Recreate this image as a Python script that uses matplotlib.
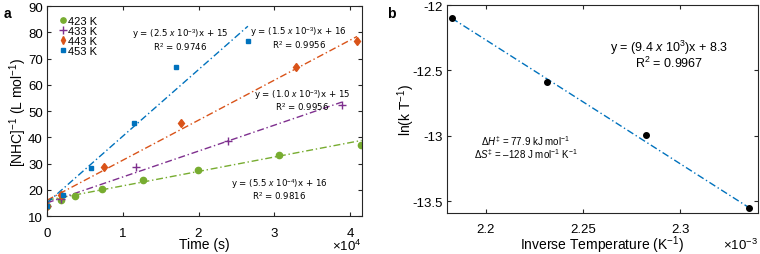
import matplotlib.pyplot as plt
from matplotlib.ticker import ScalarFormatter

plt.rcParams['font.family'] = ['Liberation Sans', 'DejaVu Sans']
plt.rcParams['mathtext.fontset'] = 'custom'
plt.rcParams['mathtext.rm'] = 'Liberation Sans'
plt.rcParams['mathtext.it'] = 'Liberation Sans:italic'

# panel a: 1/[NHC] vs time, one series per temperature
t423 = [0, 1870, 3670, 7280, 12690, 19900, 30630, 41450]
y423 = [14.0, 16.1, 17.7, 20.2, 23.6, 27.4, 33.2, 36.9]
t433 = [0, 1900, 11770, 23900, 38900]
y433 = [14.0, 16.5, 28.5, 38.4, 52.4]
t443 = [0, 1870, 7500, 17700, 32880, 40920]
y443 = [14.0, 18.1, 28.5, 45.3, 66.6, 76.7]
t453 = [0, 2090, 5830, 11540, 17080, 26540]
y453 = [13.8, 18.1, 28.4, 45.4, 66.6, 76.8]

# fitted lines (end points)
fit423_x = [0, 41500]
fit423_y = [16, 38.8]
fit433_x = [0, 38900]
fit433_y = [15, 53.4]
fit443_x = [0, 40900]
fit443_y = [16, 78.4]
fit453_x = [0, 26500]
fit453_y = [15, 82.3]

# panel b: Eyring plot
invT = [2.1825, 2.2314, 2.2825, 2.3356]
lnkT = [-12.10, -12.59, -12.99, -13.55]
fitb_x = [2.1825, 2.3356]
fitb_y = [-12.10, -13.55]

blue = '#0072BD'
orange = '#D95319'
purple = '#7E2F8E'
green = '#77AC30'
axcol = '#262626'

fig = plt.figure(figsize=(7.6, 2.55), dpi=100)
ax1 = fig.add_axes([0.0618, 0.149, 0.414, 0.8235])
ax2 = fig.add_axes([0.588, 0.161, 0.409, 0.815])

ls = (0, (5, 2, 1, 2))

ax1.plot(fit423_x, fit423_y, color=green, lw=1, ls=ls)
ax1.plot(fit433_x, fit433_y, color=purple, lw=1, ls=ls)
ax1.plot(fit443_x, fit443_y, color=orange, lw=1, ls=ls)
ax1.plot(fit453_x, fit453_y, color=blue, lw=1, ls=ls)

ax1.plot(t423, y423, 'o', color=green, ms=4.5, label='423 K')
ax1.plot(t433, y433, '+', color=purple, ms=6, mew=1, label='433 K')
ax1.plot(t443, y443, 'd', color=orange, ms=4.5, label='443 K')
ax1.plot(t453, y453, 's', color=blue, ms=3.2, label='453 K')

ax1.set_xlim(0, 41500)
ax1.set_ylim(10, 90)
ax1.set_xticks([0, 10000, 20000, 30000, 40000])
ax1.set_yticks(range(10, 91, 10))
fmt = ScalarFormatter(useMathText=True)
fmt.set_powerlimits((0, 0))
ax1.xaxis.set_major_formatter(fmt)
ax1.xaxis.get_offset_text().set_visible(False)
ax1.text(1.0, -0.105, '$\\times$10$^{4}$', transform=ax1.transAxes, fontsize=9.5,
         ha='right', va='top')
ax1.set_xlabel('Time (s)', fontsize=10, labelpad=-1)
ax1.set_ylabel('[NHC]$^{-1}$ (L mol$^{-1}$)', fontsize=10, labelpad=-1)
ax1.legend(loc='upper left', frameon=False, fontsize=8, handletextpad=0.0,
           handlelength=1.0, labelspacing=0.0, borderaxespad=0.6, borderpad=0.3,
           markerscale=0.85)

eqsize = 6.2
eqkw = dict(fontsize=eqsize, ha='center', va='center', family='DejaVu Sans',
            linespacing=1.0)
ax1.text(17500, 77.4, 'y = (2.5 $\\mathit{x}$ 10$^{-3}$)x + 15\nR$^2$ = 0.9746', **eqkw)
ax1.text(33200, 78.2, 'y = (1.5 $\\mathit{x}$ 10$^{-3}$)x + 16\nR$^2$ = 0.9956', **eqkw)
ax1.text(33600, 54.3, 'y = (1.0 $\\mathit{x}$ 10$^{-3}$)x + 15\nR$^2$ = 0.9956', **eqkw)
ax1.text(30600, 20.4, 'y = (5.5 $\\mathit{x}$ 10$^{-4}$)x + 16\nR$^2$ = 0.9816', **eqkw)

ax2.plot(fitb_x, fitb_y, color=blue, lw=1, ls=ls)
ax2.plot(invT, lnkT, 'o', color='black', ms=4)
ax2.set_xlim(2.18, 2.34)
ax2.set_ylim(-13.59, -12.0)
ax2.set_xticks([2.2, 2.25, 2.3])
ax2.set_xticklabels(['2.2', '2.25', '2.3'])
ax2.set_yticks([-13.5, -13, -12.5, -12])
ax2.set_yticklabels(['-13.5', '-13', '-12.5', '-12'])
ax2.set_xlabel('Inverse Temperature (K$^{-1}$)', fontsize=10, labelpad=-1)
ax2.set_ylabel('ln(k T$^{-1}$)', fontsize=10, labelpad=-3)
ax2.text(1.0, -0.115, '$\\times$10$^{-3}$', transform=ax2.transAxes, fontsize=9.5,
         ha='right', va='top')
ax2.text(2.2943, -12.37, 'y = (9.4 $\\mathit{x}$ 10$^{3}$)x + 8.3\nR$^2$ = 0.9967',
         fontsize=9, ha='center', va='center', linespacing=0.9)
ax2.text(2.2206, -13.08, '$\\Delta\\mathit{H}^{\\ddag}$ = 77.9 kJ mol$^{-1}$\n'
         '$\\Delta\\mathit{S}^{\\ddag}$ = \u2013128 J mol$^{-1}$ K$^{-1}$',
         fontsize=7, ha='center', va='center', linespacing=0.95)

for ax in (ax1, ax2):
    for s in ax.spines.values():
        s.set_color(axcol)
        s.set_linewidth(0.8)
    ax.tick_params(direction='in', top=True, right=True, length=3, width=0.8,
                   color=axcol, labelsize=9.5, labelcolor='black', pad=3)
    ax.tick_params(axis='x', pad=7)

fig.text(0.005, 0.93, 'a', fontsize=10, fontweight='bold')
fig.text(0.509, 0.93, 'b', fontsize=10, fontweight='bold')

fig.savefig('out.png', dpi=100)
